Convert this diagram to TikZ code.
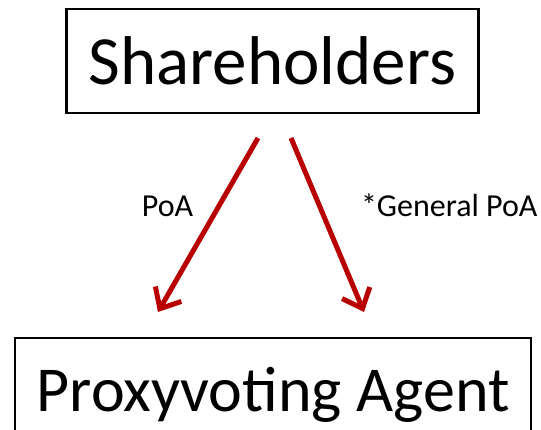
\documentclass[tikz,border=0pt]{standalone}
\usepackage{fontspec}
\setmainfont{Carlito}
\usetikzlibrary{arrows.meta}

\tikzset{
  entity/.style={draw=black,line width=2.2pt,inner sep=0pt,outer sep=0pt},
  poa/.style={draw=arrowColor,line width=5pt,-{Straight Barb[length=17pt,width=30pt]}},
  label/.style={text=black,inner sep=0pt,outer sep=0pt,font=\fontsize{32}{38}\selectfont}
}

\begin{document}
\begin{tikzpicture}[x=1pt,y=1pt]
\definecolor{arrowColor}{RGB}{185,0,0}
\useasboundingbox (0,0) rectangle (541,430);

% boxes
\node[entity,minimum width=412pt,minimum height=104pt,
  font=\fontsize{69}{76}\selectfont] (holders) at (272.5,369) {Shareholders};
\node[entity,anchor=north,minimum width=516pt,minimum height=114pt,
  font=\fontsize{64}{70}\selectfont] (agent) at (273,92) {Proxyvoting Agent};

% arrow end points
\coordinate (poaStart) at (258,292);
\coordinate (poaEnd) at (158,118);
\coordinate (genStart) at (291,292);
\coordinate (genEnd) at (364,118);

\draw[poa] (poaStart) -- (poaEnd);
\draw[poa] (genStart) -- (genEnd);

% labels
\node[label,anchor=base] (poaLabel) at (167.5,213) {PoA};
\node[label,anchor=base west] (genLabel) at (361,213) {*General PoA};
\end{tikzpicture}
\end{document}
